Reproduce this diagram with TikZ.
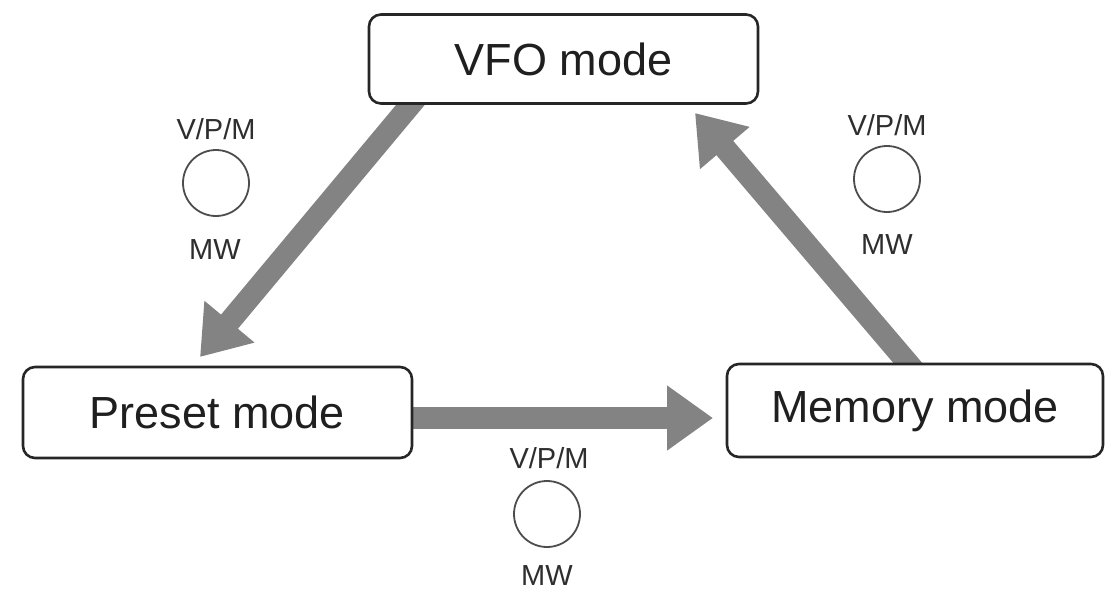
\documentclass[tikz,border=0pt]{standalone}
\usepackage{fontspec}
\setmainfont{Liberation Sans}
\usetikzlibrary{arrows.meta}
\definecolor{boxline}{HTML}{262626}
\definecolor{arrowgray}{HTML}{838383}
\definecolor{labelcol}{HTML}{2E2E2E}
\begin{document}
\begin{tikzpicture}[x=1pt,y=-1pt,
  modebox/.style={draw=boxline,line width=2.6pt,rounded corners=12pt,fill=white,
    inner sep=0pt,font=\fontsize{45}{52}\selectfont,text=black!88},
  bigarrow/.style={draw=arrowgray,line width=22pt,
    -{Triangle[width=62pt,length=46pt]},fill=arrowgray},
  keylabel/.style={font=\fontsize{29}{34}\selectfont,text=labelcol,inner sep=0pt},
  keycircle/.style={circle,draw=labelcol!85,line width=1.8pt,minimum size=66pt,inner sep=0pt}]
\useasboundingbox (0,0) rectangle (1106,592);
% arrow end points (start inside the boxes, which are drawn on top)
\coordinate (a1s) at (427,85);
\coordinate (a1e) at (200,357);
\coordinate (a2s) at (390,418);
\coordinate (a2e) at (713,418);
\coordinate (a3s) at (924,382);
\coordinate (a3e) at (695,113);
\draw[bigarrow] (a1s) -- (a1e);
\draw[bigarrow] (a2s) -- (a2e);
\draw[bigarrow] (a3s) -- (a3e);
% mode boxes
\node[modebox,minimum width=389pt,minimum height=89pt] (vfo) at (563.5,59) {VFO mode};
\node[modebox,minimum width=389pt,minimum height=91pt] (preset) at (217.5,412.5) {Preset mode};
\node[modebox,minimum width=376pt,minimum height=93pt] (memory) at (915,410.5) {Memory mode};
% key labels
\node[keylabel] (l1) at (216,129) {V/P/M};
\node[keycircle] (c1) at (216,183) {};
\node[keylabel] (m1) at (215,250) {MW};
\node[keylabel] (l2) at (887,125) {V/P/M};
\node[keycircle] (c2) at (887,179) {};
\node[keylabel] (m2) at (887,245) {MW};
\node[keylabel] (l3) at (549,458) {V/P/M};
\node[keycircle] (c3) at (547,514) {};
\node[keylabel] (m3) at (547,576) {MW};
\end{tikzpicture}
\end{document}
